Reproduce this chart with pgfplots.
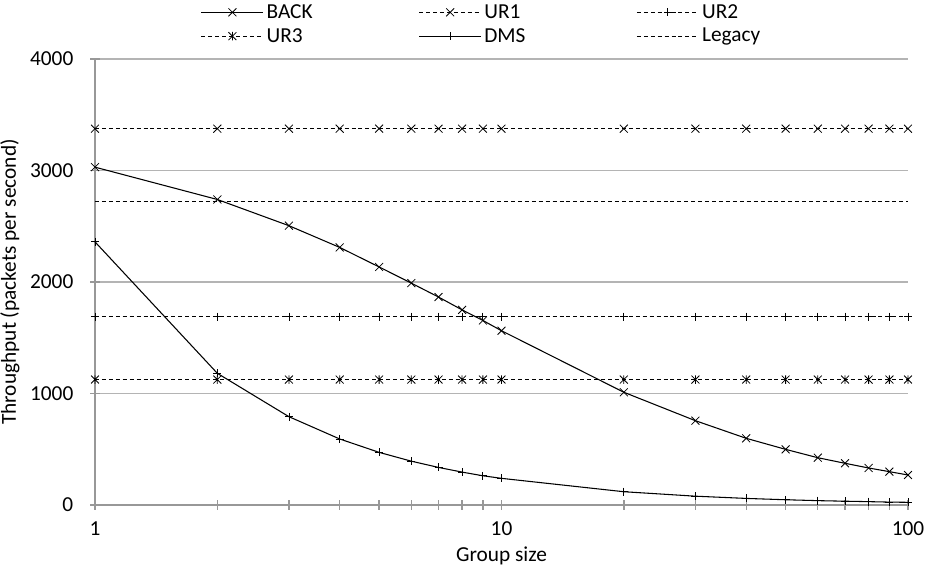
\documentclass[border=0pt]{standalone}
\usepackage{pgfplots}
\pgfplotsset{compat=1.18}
\usepackage{fontspec}
\setmainfont{Carlito}
\definecolor{axgray}{HTML}{989898}
\definecolor{gridgray}{HTML}{B4B4B4}
\pgfdeclareplotmark{xstar}{%
  \pgfpathmoveto{\pgfqpoint{-.70710678\pgfplotmarksize}{-.70710678\pgfplotmarksize}}%
  \pgfpathlineto{\pgfqpoint{.70710678\pgfplotmarksize}{.70710678\pgfplotmarksize}}%
  \pgfpathmoveto{\pgfqpoint{-.70710678\pgfplotmarksize}{.70710678\pgfplotmarksize}}%
  \pgfpathlineto{\pgfqpoint{.70710678\pgfplotmarksize}{-.70710678\pgfplotmarksize}}%
  \pgfpathmoveto{\pgfqpoint{0pt}{-.75\pgfplotmarksize}}%
  \pgfpathlineto{\pgfqpoint{0pt}{.75\pgfplotmarksize}}%
  \pgfusepathqstroke}

\pgfplotstableread{
x    back  ur1   ur2   ur3   dms   legacy
1    3030  3375  1690  1125  2360  2725
2    2740  3375  1690  1125  1181  2725
3    2505  3375  1690  1125  792   2725
4    2310  3375  1690  1125  592   2725
5    2135  3375  1690  1125  472   2725
6    1990  3375  1690  1125  393   2725
7    1865  3375  1690  1125  337   2725
8    1750  3375  1690  1125  295   2725
9    1655  3375  1690  1125  262   2725
10   1563  3375  1690  1125  239   2725
20   1011  3375  1690  1125  119   2725
30   756   3375  1690  1125  79    2725
40   598   3375  1690  1125  59    2725
50   499   3375  1690  1125  47    2725
60   424   3375  1690  1125  39    2725
70   374   3375  1690  1125  34    2725
80   332   3375  1690  1125  30    2725
90   299   3375  1690  1125  26    2725
100  269   3375  1690  1125  24    2725
}\datatable

\begin{document}
\begin{tikzpicture}[font=\fontsize{16}{19}\selectfont]
\begin{axis}[
  scale only axis,
  width=609.75pt, height=334.5pt,
  xmode=log, log basis x=10,
  xmin=1, xmax=100, ymin=0, ymax=4000,
  xtick={1,10,100}, xticklabels={1,10,100},
  minor xtick={2,3,4,5,6,7,8,9,20,30,40,50,60,70,80,90},
  ytick={0,1000,2000,3000,4000},
  scaled y ticks=false,
  /pgf/number format/1000 sep={},
  /pgf/number format/assume math mode=true,
  ymajorgrids,
  grid style={gridgray, line width=1pt},
  axis x line=bottom, axis y line=left,
  axis line style={axgray, line width=1.5pt, -},
  tick align=center,
  major tick length=7.5pt, minor tick length=7.5pt,
  tick style={axgray, line width=1pt},
  xticklabel style={yshift=-5pt},
  yticklabel style={xshift=-9pt},
  xlabel={Group size},
  ylabel={Throughput (packets per second)},
  xlabel style={yshift=-2pt},
  ylabel style={yshift=1pt},
  legend columns=3,
  legend style={draw=none, fill=none, at={(0.125,1.135)}, anchor=north west,
    nodes={inner sep=2pt}, row sep=2pt},
  legend cell align=left,
  legend image code/.code={\draw[mark repeat=2,mark phase=2] plot coordinates {(0pt,0pt) (23.25pt,0pt) (46.5pt,0pt)};},
  every axis plot/.append style={line width=0.8pt, black, mark options={solid, line width=0.6pt}},
  clip=false,
]
\addplot[solid, mark=x, mark size=4.2pt] table[x=x, y=back] {\datatable};
\addlegendentry{\makebox[112pt][l]{BACK}}
\addplot[dash pattern=on 3pt off 2.2pt, mark=x, mark size=4.2pt] table[x=x, y=ur1] {\datatable};
\addlegendentry{\makebox[112pt][l]{UR1}}
\addplot[dash pattern=on 3pt off 2.2pt, mark=+, mark size=3pt] table[x=x, y=ur2] {\datatable};
\addlegendentry{\makebox[112pt][l]{UR2}}
\addplot[dash pattern=on 3pt off 2.2pt, mark=xstar, mark size=4.2pt] table[x=x, y=ur3] {\datatable};
\addlegendentry{\makebox[112pt][l]{UR3}}
\addplot[solid, mark=+, mark size=3pt] table[x=x, y=dms] {\datatable};
\addlegendentry{\makebox[112pt][l]{DMS}}
\addplot[dash pattern=on 3pt off 2.2pt, no marks] table[x=x, y=legacy] {\datatable};
\addlegendentry{\makebox[112pt][l]{Legacy}}
\end{axis}
\pgfresetboundingbox
\path (current axis.south west) ++(-71.25pt,-46.5pt) rectangle ++(694.5pt,425.25pt);
\end{tikzpicture}
\end{document}
